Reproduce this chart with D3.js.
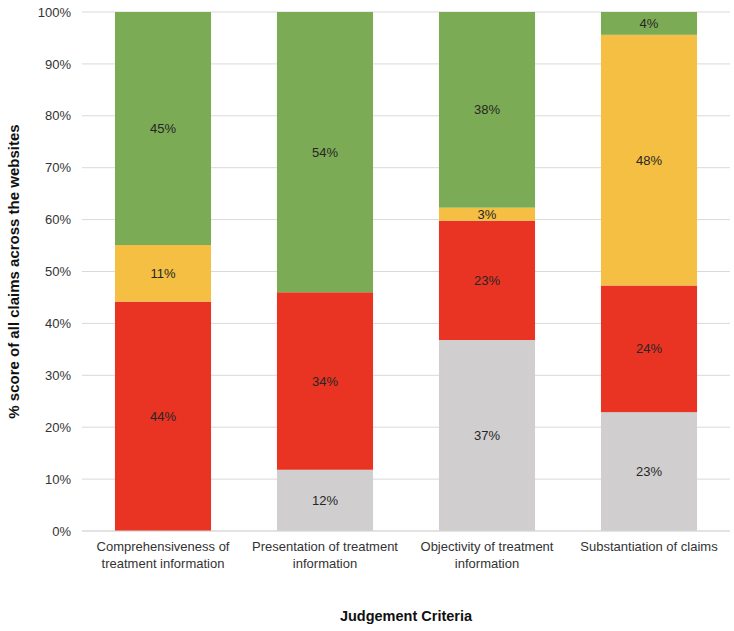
<!DOCTYPE html>
<html>
<head>
<meta charset="utf-8">
<script src="https://cdn.jsdelivr.net/npm/d3@7"></script>
<style>
  body { margin: 0; background: #fff; }
  text { font-family: "Liberation Sans", Arial, sans-serif; }
</style>
</head>
<body>
<div id="chart"></div>
<script>
// categories and stacked series (percent of all claims)
var categories = [
  "Comprehensiveness of treatment information",
  "Presentation of treatment information",
  "Objectivity of treatment information",
  "Substantiation of claims"
];
var categoryLines = [
  ["Comprehensiveness of", "treatment information"],
  ["Presentation of treatment", "information"],
  ["Objectivity of treatment", "information"],
  ["Substantiation of claims"]
];
var seriesNames = ["grey", "red", "yellow", "green"];
var greyValues = [0, 11.8, 36.8, 22.9];
var redValues = [44.2, 34.2, 23.0, 24.4];
var yellowValues = [10.9, 0, 2.5, 48.3];
var greenValues = [44.9, 54.0, 37.7, 4.4];
var yTicks = [0, 10, 20, 30, 40, 50, 60, 70, 80, 90, 100];

var colors = {grey: "#d0cece", red: "#e93423", yellow: "#f4bf42", green: "#7cab55"};

var svgWidth = 734;
var svgHeight = 631;
var margin = {top: 12, right: 4, bottom: 100, left: 82};
var chartWidth = svgWidth - margin.left - margin.right;
var chartHeight = svgHeight - margin.top - margin.bottom;

var svg = d3.select("#chart")
  .append("svg")
  .attr("width", svgWidth)
  .attr("height", svgHeight);

var chartGroup = svg.append("g")
  .attr("transform", `translate(${margin.left}, ${margin.top})`);

var rows = categories.map(function(c, i) {
  return {
    category: c,
    grey: greyValues[i],
    red: redValues[i],
    yellow: yellowValues[i],
    green: greenValues[i]
  };
});

var xScale = d3.scaleBand()
  .domain(categories)
  .range([0, chartWidth])
  .paddingInner(0.407)
  .paddingOuter(0.2035);

var yScale = d3.scaleLinear()
  .domain([0, 100])
  .range([chartHeight, 0]);

// gridlines
chartGroup.append("g")
  .selectAll("line")
  .data(yTicks)
  .enter()
  .append("line")
  .attr("x1", 0)
  .attr("x2", chartWidth)
  .attr("y1", d => yScale(d))
  .attr("y2", d => yScale(d))
  .attr("stroke", "#d9d9d9")
  .attr("stroke-width", 1);

// y axis labels
var yAxis = d3.axisLeft(yScale)
  .tickValues(yTicks)
  .tickFormat(d => d + "%")
  .tickSize(0)
  .tickPadding(11);

chartGroup.append("g")
  .call(yAxis)
  .call(g => g.select(".domain").remove())
  .selectAll("text")
  .attr("font-size", "13px")
  .attr("font-family", "Liberation Sans, Arial, sans-serif")
  .attr("fill", "#333");

var stack = d3.stack().keys(seriesNames);
var stacked = stack(rows);

var layers = chartGroup.selectAll(".layer")
  .data(stacked)
  .enter()
  .append("g")
  .attr("class", "layer")
  .attr("fill", d => colors[d.key]);

layers.selectAll("rect")
  .data(d => d)
  .enter()
  .append("rect")
  .attr("x", d => xScale(d.data.category))
  .attr("width", xScale.bandwidth())
  .attr("y", d => yScale(d[1]))
  .attr("height", d => yScale(d[0]) - yScale(d[1]));

// value labels
layers.selectAll("text")
  .data(d => d.filter(s => s[1] - s[0] > 0))
  .enter()
  .append("text")
  .attr("x", d => xScale(d.data.category) + xScale.bandwidth() / 2)
  .attr("y", d => yScale((d[0] + d[1]) / 2))
  .attr("dy", "0.35em")
  .attr("text-anchor", "middle")
  .attr("font-size", "13px")
  .attr("fill", "#262626")
  .text(d => Math.round(d[1] - d[0] + 1e-9) + "%");

// x axis line
chartGroup.append("line")
  .attr("x1", 0)
  .attr("x2", chartWidth)
  .attr("y1", chartHeight)
  .attr("y2", chartHeight)
  .attr("stroke", "#d9d9d9");

// category labels
var xLabels = chartGroup.append("g")
  .selectAll("text")
  .data(categories)
  .enter()
  .append("text")
  .attr("x", d => xScale(d) + xScale.bandwidth() / 2)
  .attr("y", chartHeight + 20)
  .attr("text-anchor", "middle")
  .attr("font-size", "13px")
  .attr("fill", "#333");

xLabels.each(function(d, i) {
  var t = d3.select(this);
  categoryLines[i].forEach(function(line, j) {
    t.append("tspan")
      .attr("x", xScale(d) + xScale.bandwidth() / 2)
      .attr("dy", j === 0 ? 0 : 16.5)
      .text(line);
  });
});

// axis titles
svg.append("text")
  .attr("x", margin.left + chartWidth / 2)
  .attr("y", 621)
  .attr("text-anchor", "middle")
  .attr("font-size", "14.5px")
  .attr("font-weight", "bold")
  .attr("fill", "#111")
  .text("Judgement Criteria");

svg.append("text")
  .attr("transform", `translate(19, ${margin.top + chartHeight / 2}) rotate(-90)`)
  .attr("text-anchor", "middle")
  .attr("font-size", "15px")
  .attr("font-weight", "bold")
  .attr("fill", "#111")
  .text("% score of all claims across the websites");
</script>
</body>
</html>
